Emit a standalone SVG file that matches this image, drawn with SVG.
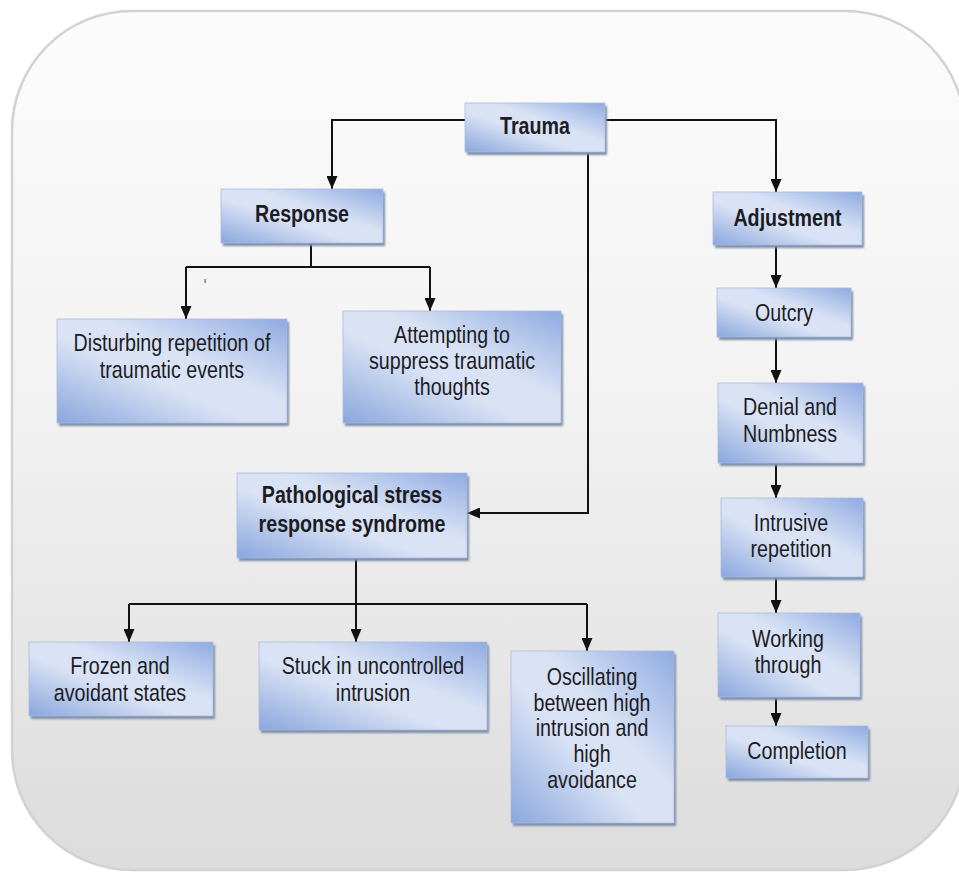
<svg xmlns="http://www.w3.org/2000/svg" width="959" height="873" viewBox="0 0 959 873">
  <defs>
    <linearGradient id="bg" x1="0" y1="0" x2="0" y2="1">
      <stop offset="0" stop-color="#fcfcfc"/>
      <stop offset="0.45" stop-color="#f2f2f2"/>
      <stop offset="1" stop-color="#dcdcdc"/>
    </linearGradient>
    <linearGradient id="boxFill" x1="0" y1="1" x2="1" y2="0">
      <stop offset="0" stop-color="#89a6dd"/>
      <stop offset="0.42" stop-color="#dae3f5"/>
      <stop offset="0.6" stop-color="#d8e2f4"/>
      <stop offset="1" stop-color="#8faae1"/>
    </linearGradient>
    <filter id="soft" x="-5%" y="-5%" width="110%" height="115%">
      <feGaussianBlur stdDeviation="0.8"/>
    </filter>
    <marker id="arrow" viewBox="0 0 13 11" refX="13" refY="5.5" markerWidth="13" markerHeight="11" markerUnits="userSpaceOnUse" orient="auto">
      <path d="M0,0 L13,5.5 L0,11 z" fill="#111"/>
    </marker>
  </defs>
  <style>
    .shadow { fill: #7f8ca6; filter: url(#soft); }
    .box { fill: url(#boxFill); stroke: #a9bbe0; stroke-width: 0.8; }
    .lbl { font-family: "Liberation Sans Narrow", "Arial Narrow", "Liberation Sans", Arial, sans-serif; font-size: 24px; fill: #1c1c24; text-anchor: middle; }
    .bold { font-weight: bold; }
    .wire { fill: none; stroke: #111; stroke-width: 2; }
  </style>

  <!-- rounded panel behind the chart -->
  <rect x="12" y="11" width="953" height="859" rx="120" ry="120" fill="url(#bg)" stroke="#d2d2d2" stroke-width="2.5"/>
  <rect x="204.5" y="279" width="1.2" height="4" fill="#666"/>

  <!-- connectors -->
  <g id="connectors">
    <path class="wire" d="M465,120 H332 V189" marker-end="url(#arrow)"/>
    <path class="wire" d="M605,120 H776 V192" marker-end="url(#arrow)"/>
    <path class="wire" d="M588,152 V513 H467" marker-end="url(#arrow)"/>
    <path class="wire" d="M311,243 V267 M186,267 H430"/>
    <path class="wire" d="M186,267 V319" marker-end="url(#arrow)"/>
    <path class="wire" d="M430,267 V311" marker-end="url(#arrow)"/>
    <path class="wire" d="M129,604 H587"/>
    <path class="wire" d="M356,558 V642" marker-end="url(#arrow)"/>
    <path class="wire" d="M129,604 V642" marker-end="url(#arrow)"/>
    <path class="wire" d="M587,604 V651" marker-end="url(#arrow)"/>
    <path class="wire" d="M776,245 V288" marker-end="url(#arrow)"/>
    <path class="wire" d="M776,337 V383" marker-end="url(#arrow)"/>
    <path class="wire" d="M776,463 V498" marker-end="url(#arrow)"/>
    <path class="wire" d="M776,577 V613" marker-end="url(#arrow)"/>
    <path class="wire" d="M776,697 V726" marker-end="url(#arrow)"/>
  </g>

  <!-- labels are narrowed horizontally about each node's centre line -->
  <g id="trauma">
    <rect class="shadow" x="467" y="106" width="140" height="49"/>
    <rect class="box" x="465" y="103" width="140" height="49"/>
    <g transform="translate(535,0) scale(0.82,1)">
      <text class="lbl bold" x="0" y="134">Trauma</text>
    </g>
  </g>
  <g id="response">
    <rect class="shadow" x="223" y="192" width="162" height="54"/>
    <rect class="box" x="221" y="189" width="162" height="54"/>
    <g transform="translate(302,0) scale(0.82,1)">
      <text class="lbl bold" x="0" y="222">Response</text>
    </g>
  </g>
  <g id="adjustment">
    <rect class="shadow" x="715" y="195" width="149" height="53"/>
    <rect class="box" x="713" y="192" width="149" height="53"/>
    <g transform="translate(787.5,0) scale(0.82,1)">
      <text class="lbl bold" x="0" y="226">Adjustment</text>
    </g>
  </g>
  <g id="outcry">
    <rect class="shadow" x="719" y="291" width="134" height="49"/>
    <rect class="box" x="717" y="288" width="134" height="49"/>
    <g transform="translate(784,0) scale(0.82,1)">
      <text class="lbl" x="0" y="321">Outcry</text>
    </g>
  </g>
  <g id="denial">
    <rect class="shadow" x="720" y="386" width="145" height="80"/>
    <rect class="box" x="718" y="383" width="145" height="80"/>
    <g transform="translate(790,0) scale(0.82,1)">
      <text class="lbl" x="0" y="415">Denial and</text>
      <text class="lbl" x="0" y="442">Numbness</text>
    </g>
  </g>
  <g id="intrusive">
    <rect class="shadow" x="723" y="501" width="142" height="79"/>
    <rect class="box" x="721" y="498" width="142" height="79"/>
    <g transform="translate(791,0) scale(0.82,1)">
      <text class="lbl" x="0" y="531">Intrusive</text>
      <text class="lbl" x="0" y="557">repetition</text>
    </g>
  </g>
  <g id="working">
    <rect class="shadow" x="720" y="616" width="142" height="84"/>
    <rect class="box" x="718" y="613" width="142" height="84"/>
    <g transform="translate(788,0) scale(0.82,1)">
      <text class="lbl" x="0" y="647">Working</text>
      <text class="lbl" x="0" y="673">through</text>
    </g>
  </g>
  <g id="completion">
    <rect class="shadow" x="728" y="729" width="142" height="52"/>
    <rect class="box" x="726" y="726" width="142" height="52"/>
    <g transform="translate(797,0) scale(0.82,1)">
      <text class="lbl" x="0" y="759">Completion</text>
    </g>
  </g>
  <g id="disturbing">
    <rect class="shadow" x="59" y="322" width="230" height="104"/>
    <rect class="box" x="57" y="319" width="230" height="104"/>
    <g transform="translate(172,0) scale(0.82,1)">
      <text class="lbl" x="0" y="351">Disturbing repetition of</text>
      <text class="lbl" x="0" y="378">traumatic events</text>
    </g>
  </g>
  <g id="attempting">
    <rect class="shadow" x="345" y="314" width="218" height="112"/>
    <rect class="box" x="343" y="311" width="218" height="112"/>
    <g transform="translate(452,0) scale(0.82,1)">
      <text class="lbl" x="0" y="343">Attempting to</text>
      <text class="lbl" x="0" y="369">suppress traumatic</text>
      <text class="lbl" x="0" y="395">thoughts</text>
    </g>
  </g>
  <g id="pathological">
    <rect class="shadow" x="239" y="476" width="230" height="85"/>
    <rect class="box" x="237" y="473" width="230" height="85"/>
    <g transform="translate(352,0) scale(0.82,1)">
      <text class="lbl bold" x="0" y="503">Pathological stress</text>
      <text class="lbl bold" x="0" y="532">response syndrome</text>
    </g>
  </g>
  <g id="frozen">
    <rect class="shadow" x="31" y="645" width="184" height="74"/>
    <rect class="box" x="29" y="642" width="184" height="74"/>
    <g transform="translate(120,0) scale(0.82,1)">
      <text class="lbl" x="0" y="674">Frozen and</text>
      <text class="lbl" x="0" y="701">avoidant states</text>
    </g>
  </g>
  <g id="stuck">
    <rect class="shadow" x="261" y="645" width="228" height="88"/>
    <rect class="box" x="259" y="642" width="228" height="88"/>
    <g transform="translate(373,0) scale(0.82,1)">
      <text class="lbl" x="0" y="674">Stuck in uncontrolled</text>
      <text class="lbl" x="0" y="701">intrusion</text>
    </g>
  </g>
  <g id="oscillating">
    <rect class="shadow" x="513" y="654" width="163" height="172"/>
    <rect class="box" x="511" y="651" width="163" height="172"/>
    <g transform="translate(592,0) scale(0.82,1)">
      <text class="lbl" x="0" y="685">Oscillating</text>
      <text class="lbl" x="0" y="711">between high</text>
      <text class="lbl" x="0" y="736">intrusion and</text>
      <text class="lbl" x="0" y="762">high</text>
      <text class="lbl" x="0" y="788">avoidance</text>
    </g>
  </g>
</svg>
